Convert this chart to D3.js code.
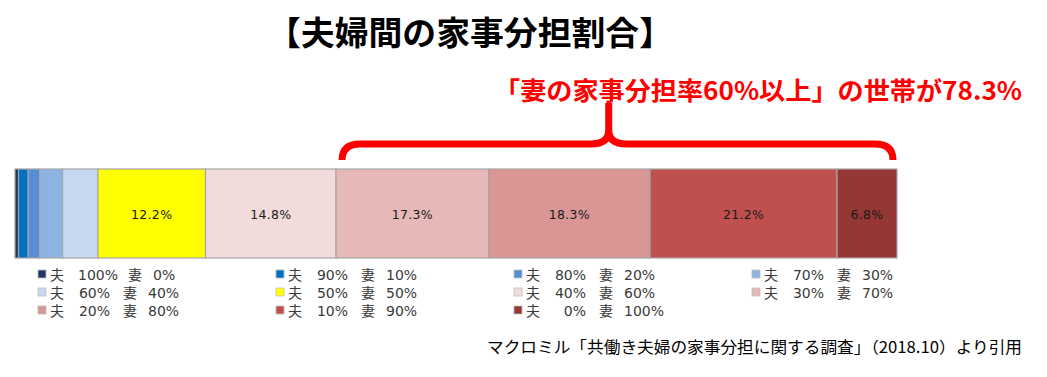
<!DOCTYPE html>
<html><head><meta charset="utf-8">
<script src="https://cdn.jsdelivr.net/npm/d3@7"></script>
<style>
html,body{margin:0;padding:0;background:#fff;}
svg{display:block;}
</style></head>
<body>
<svg id="c" width="1047" height="377"></svg>
<script>
// ---- data ----
const husbandShare = [100, 90, 80, 70, 60, 50, 40, 30, 20, 10, 0];
const wifeShare    = [0, 10, 20, 30, 40, 50, 60, 70, 80, 90, 100];
const householdPct = [0.4, 1.1, 1.3, 2.6, 4.0, 12.2, 14.8, 17.3, 18.3, 21.2, 6.8];
const segColors = ["#1f3864","#0070c0","#558ed5","#8db3e2","#c6d9f1","#ffff00","#f2dcdb","#e6b9b8","#d99694","#c0504d","#953735"];
const titleText = "【夫婦間の家事分担割合】";
const noteText = "「妻の家事分担率60%以上」の世帯が78.3%";
const sourceText = "マクロミル「共働き夫婦の家事分担に関する調査」（2018.10）より引用";

const svg = d3.select("#c");
const CJK = "'Noto Sans CJK JP', sans-serif";
const LAT = "'DejaVu Sans', 'Noto Sans CJK JP', sans-serif";

// scale
const x = d3.scaleLinear().domain([0, 100]).range([15, 897]);
const barTop = 169, barH = 89;

let cum = 0;
const segs = householdPct.map((v, i) => { const s = {i, v, x0: cum, x1: cum + v}; cum += v; return s; });

// title
svg.append("text").attr("x", 267).attr("y", 45)
  .attr("textLength", 406).attr("lengthAdjust", "spacingAndGlyphs")
  .style("font-family", CJK).style("font-weight", "700").style("font-size", "33px")
  .attr("fill", "#000").text(titleText);

// annotation
svg.append("text").attr("x", 494).attr("y", 100)
  .attr("textLength", 528).attr("lengthAdjust", "spacingAndGlyphs")
  .style("font-family", CJK).style("font-weight", "700").style("font-size", "25px")
  .attr("fill", "#ff0000").text(noteText);

// bars
const g = svg.append("g");
g.selectAll("rect.seg").data(segs).enter().append("rect")
  .attr("class", "seg")
  .attr("x", d => x(d.x0)).attr("y", barTop)
  .attr("width", d => x(d.x1) - x(d.x0)).attr("height", barH)
  .attr("fill", d => segColors[d.i])
  .attr("stroke", "#a6a6a6").attr("stroke-width", 1.2);

g.selectAll("text.lab").data(segs.filter(d => d.v >= 5)).enter().append("text")
  .attr("class", "lab")
  .attr("x", d => (x(d.x0) + x(d.x1)) / 2).attr("y", barTop + barH / 2 + 5)
  .attr("text-anchor", "middle")
  .style("font-family", "'DejaVu Sans', sans-serif").style("font-size", "12.5px")
  .style("letter-spacing", "0.3px")
  .attr("fill", "#1a1a1a")
  .text(d => d.v.toFixed(1) + "%");

// brace
const bl = x(segs[7].x0) + 6, br = x(100) - 4;
const mid = bl + (br - bl) * 0.484;
const hy = 144, ey = 160, sy = 103, r = 18;
const brace = d3.path();
brace.moveTo(bl, ey);
brace.quadraticCurveTo(bl, hy, bl + r, hy);
brace.lineTo(mid - r, hy);
brace.quadraticCurveTo(mid, hy, mid, hy - 14);
brace.lineTo(mid, sy);
brace.moveTo(mid, hy - 14);
brace.quadraticCurveTo(mid, hy, mid + r, hy);
brace.lineTo(br - r, hy);
brace.quadraticCurveTo(br, hy, br, ey);
svg.append("path").attr("d", brace.toString())
  .attr("fill", "none").attr("stroke", "#ff0000").attr("stroke-width", 7)
  .attr("stroke-linejoin", "round");

// legend
const colX = [38, 276, 514, 752];
const rowY = [280, 298, 316];
const leg = svg.append("g").style("font-size", "14px").attr("fill", "#3a3a3a");
husbandShare.forEach((h, i) => {
  const cx = colX[i % 4], cy = rowY[Math.floor(i / 4)];
  const it = leg.append("g");
  it.append("rect").attr("x", cx).attr("y", cy - 10).attr("width", 8).attr("height", 8)
    .attr("fill", segColors[i]).attr("stroke", "#bfbfbf").attr("stroke-width", 0.8);
  const big = h === 100;
  it.append("text").attr("x", cx + 12).attr("y", cy).style("font-family", CJK).text("夫");
  it.append("text").attr("x", cx + (big ? 80 : 72)).attr("y", cy).attr("text-anchor", "end")
    .style("font-family", LAT).text(h + "%");
  const wx = cx + (big ? 90 : 85);
  it.append("text").attr("x", wx).attr("y", cy).style("font-family", CJK).text("妻");
  it.append("text").attr("x", wx + 25).attr("y", cy).style("font-family", LAT).text(wifeShare[i] + "%");
});

// source
svg.append("text").attr("x", 487).attr("y", 353)
  .attr("textLength", 535).attr("lengthAdjust", "spacingAndGlyphs")
  .style("font-family", CJK).style("font-size", "16px").attr("fill", "#000")
  .text(sourceText);
</script>
</body></html>
